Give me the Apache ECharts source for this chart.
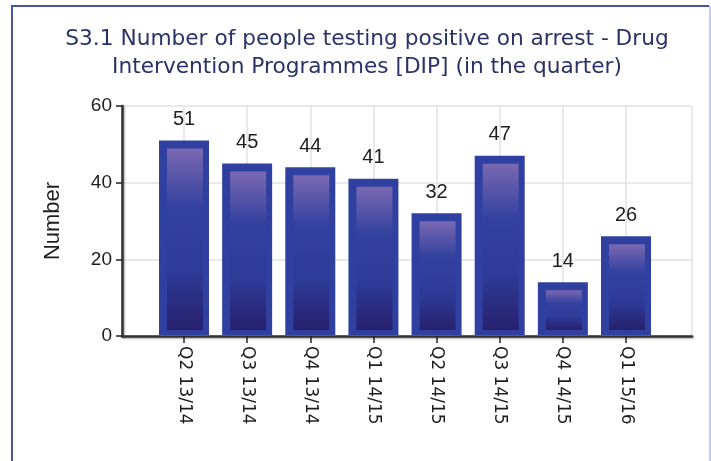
<!DOCTYPE html>
<html>
<head>
<meta charset="utf-8">
<script src="https://cdn.jsdelivr.net/npm/echarts@6/dist/echarts.min.js"></script>
<style>
  html, body { margin: 0; padding: 0; background: #fff; }
  #chart { width: 711px; height: 461px; }
</style>
</head>
<body>
<div id="chart"></div>
<script>
const titleLines = [
  'S3.1 Number of people testing positive on arrest - Drug',
  'Intervention Programmes [DIP] (in the quarter)'
];
const quarters = ['Q2 13/14', 'Q3 13/14', 'Q4 13/14', 'Q1 14/15', 'Q2 14/15', 'Q3 14/15', 'Q4 14/15', 'Q1 15/16'];
const positives = [51, 45, 44, 41, 32, 47, 14, 26];
const yTicks = [0, 20, 40, 60];

const chart = echarts.init(document.getElementById('chart'));

const innerFill = new echarts.graphic.LinearGradient(0, 0, 0, 1, [
  { offset: 0, color: '#7a68b2' },
  { offset: 0.32, color: '#34429f' },
  { offset: 0.68, color: '#2d3a96' },
  { offset: 1, color: '#27206e' }
]);

// bar with a flat blue frame and a shaded inner panel
function renderBar(params, api) {
  const val = api.value(1);
  const top = api.coord([api.value(0), val]);
  const base = api.coord([api.value(0), 0]);
  const w = 50;
  const x = top[0] - w / 2;
  const h = base[1] - 1 - top[1];
  return {
    type: 'group',
    children: [
      { type: 'rect', shape: { x: x, y: top[1], width: w, height: h }, style: { fill: '#3040a0' } },
      { type: 'rect', shape: { x: x + 8, y: top[1] + 8, width: w - 14, height: Math.max(h - 13, 0) }, style: { fill: innerFill } },
      {
        type: 'text',
        style: {
          text: String(val), x: top[0], y: top[1] - 11,
          align: 'center', verticalAlign: 'bottom',
          font: '20px "Liberation Sans"', fill: '#1e1e1e'
        }
      }
    ]
  };
}

const axisLineStyle = {
  color: '#333',
  width: 2.5,
  shadowColor: 'rgba(0,0,0,0.35)',
  shadowBlur: 2,
  shadowOffsetX: 1,
  shadowOffsetY: 1
};

chart.setOption({
  animation: false,
  title: {
    text: titleLines.join('\n'),
    left: 362,
    top: 20,
    textAlign: 'center',
    textStyle: {
      fontFamily: '"DejaVu Sans"',
      fontSize: 21.7,
      fontWeight: 'normal',
      color: '#2b3366',
      lineHeight: 28
    }
  },
  graphic: [
    { type: 'polyline', shape: { points: [[12, 470], [12, 6], [709, 6]] }, style: { stroke: '#4654a8', lineWidth: 2, fill: null } },
    { type: 'line', shape: { x1: 710, y1: 6, x2: 710, y2: 470 }, style: { stroke: '#c4cae8', lineWidth: 2 } }
  ],
  grid: [
    { left: 122, right: 19, top: 106, bottom: 125 },
    { left: 184, right: 85, top: 106, bottom: 125 }
  ],
  xAxis: [
    {
      gridIndex: 0, type: 'value', min: 0, max: 1, interval: 1,
      axisLine: { show: true, onZero: false, lineStyle: axisLineStyle },
      axisTick: { show: false },
      axisLabel: { show: false },
      splitLine: { show: true, lineStyle: { color: '#e2e2e2', width: 1.5 } }
    },
    {
      gridIndex: 1, type: 'category', data: quarters, boundaryGap: false,
      axisLine: { show: false },
      axisTick: { show: true, length: 7, lineStyle: { color: '#222', width: 1.5 } },
      axisLabel: {
        rotate: -90, margin: 10, color: '#1e1e1e',
        fontFamily: '"DejaVu Sans"', fontSize: 17
      },
      splitLine: { show: true, lineStyle: { color: '#e2e2e2', width: 1.5 } }
    }
  ],
  yAxis: [
    {
      gridIndex: 0, type: 'value', min: yTicks[0], max: yTicks[yTicks.length - 1], interval: 20,
      name: 'Number', nameLocation: 'middle', nameGap: 58,
      nameTextStyle: { fontFamily: '"Liberation Sans"', fontSize: 22, color: '#1e1e1e' },
      axisLine: { show: true, lineStyle: axisLineStyle },
      axisTick: { show: true, length: 6, lineStyle: { color: '#222', width: 1.5 } },
      axisLabel: { margin: 10, color: '#1e1e1e', fontFamily: '"Liberation Sans"', fontSize: 19 },
      splitLine: { show: true, lineStyle: { color: '#e2e2e2', width: 1.5 } }
    },
    {
      gridIndex: 1, type: 'value', min: yTicks[0], max: yTicks[yTicks.length - 1], interval: 20,
      show: false
    }
  ],
  series: [
    {
      type: 'custom',
      xAxisIndex: 1,
      yAxisIndex: 1,
      renderItem: renderBar,
      data: positives.map((v, i) => [i, v])
    }
  ]
});
</script>
</body>
</html>
